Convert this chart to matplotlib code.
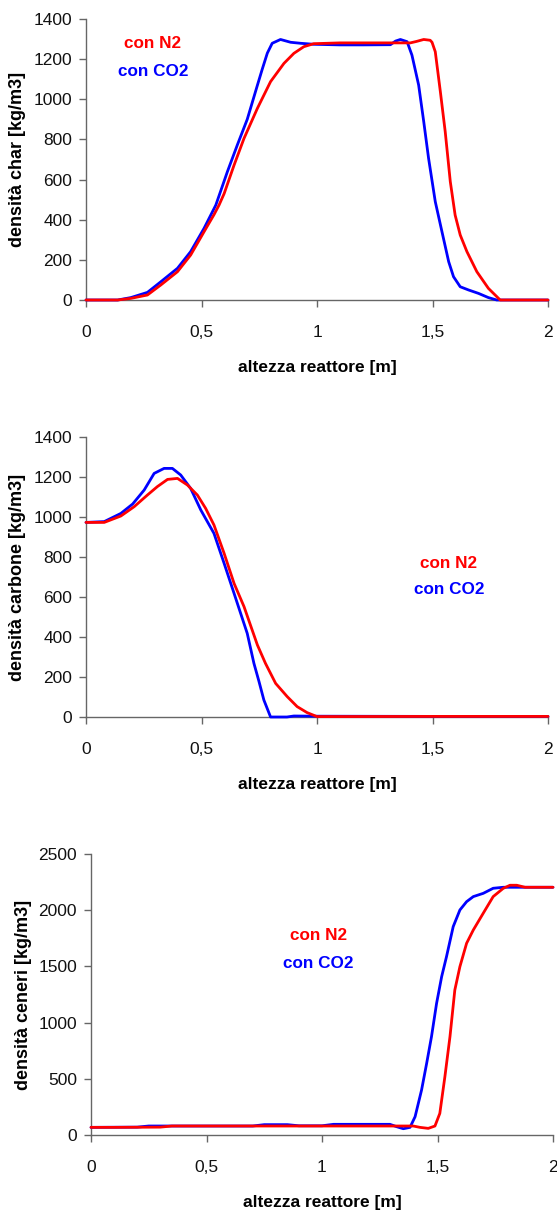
import matplotlib
matplotlib.use("Agg")
import matplotlib.pyplot as plt
from matplotlib.ticker import FixedLocator

# ---------------- data ----------------
char_n2_x = [0, 0.10, 0.137, 0.194, 0.266, 0.324, 0.396, 0.453, 0.511, 0.554, 0.576, 0.598,
             0.641, 0.684, 0.742, 0.799, 0.857, 0.900, 0.943, 0.986, 1.1, 1.25, 1.404, 1.43,
             1.462, 1.49, 1.498, 1.512, 1.534, 1.555, 1.577, 1.598, 1.62, 1.649, 1.692,
             1.742, 1.793, 1.85, 2.0]
char_n2_y = [0, 0, 0, 8, 25, 75, 141, 224, 340, 425, 473, 530,
             672, 805, 955, 1088, 1179, 1229, 1262, 1277, 1281, 1281, 1281, 1288,
             1298, 1294, 1284, 1237, 1038, 839, 590, 423, 324, 241, 141,
             58, 0, 0, 0]
char_co2_x = [0, 0.10, 0.137, 0.194, 0.266, 0.324, 0.396, 0.453, 0.511, 0.562, 0.612, 0.655,
              0.698, 0.72, 0.742, 0.763, 0.785, 0.806, 0.842, 0.886, 0.929, 0.986, 1.1, 1.2,
              1.318, 1.34, 1.361, 1.39, 1.411, 1.44, 1.462, 1.483, 1.512, 1.541, 1.57, 1.591,
              1.62, 1.656, 1.699, 1.742, 1.778, 1.85, 2.0]
char_co2_y = [0, 0, 0, 12, 38, 91, 158, 241, 357, 473, 639, 772,
              900, 985, 1070, 1150, 1230, 1279, 1298, 1284, 1279, 1274, 1271, 1271,
              1272, 1290, 1298, 1287, 1220, 1071, 889, 706, 490, 340, 191, 116,
              66, 50, 33, 12, 0, 0, 0]

carb_n2_x = [0, 0.079, 0.151, 0.209, 0.266, 0.309, 0.353, 0.396, 0.439, 0.482, 0.518, 0.554,
             0.598, 0.641, 0.684, 0.742, 0.777, 0.821, 0.871, 0.914, 0.957, 1.0, 1.5, 2.0]
carb_n2_y = [973, 973, 1005, 1052, 1110, 1152, 1188, 1193, 1160, 1110, 1043, 960,
             818, 668, 552, 360, 268, 168, 102, 52, 22, 2, 3, 3]
carb_co2_x = [0, 0.079, 0.151, 0.202, 0.252, 0.295, 0.338, 0.374, 0.41, 0.453, 0.497, 0.554,
              0.598, 0.641, 0.698, 0.727, 0.749, 0.77, 0.799, 0.87, 0.9, 1.0, 1.5, 2.0]
carb_co2_y = [973, 977, 1018, 1065, 1135, 1218, 1243, 1243, 1210, 1143, 1035, 918,
              768, 618, 418, 268, 177, 85, 0, 0, 5, 4, 3, 3]

cen_n2_x = [0, 0.1, 0.3, 0.35, 0.7, 1.0, 1.2, 1.395, 1.424, 1.46, 1.489, 1.51, 1.532,
            1.554, 1.575, 1.597, 1.626, 1.655, 1.698, 1.741, 1.785, 1.814, 1.843, 1.879, 2.0]
cen_n2_y = [68, 68, 70, 80, 80, 80, 80, 80, 68, 59, 80, 192, 519,
            875, 1290, 1498, 1706, 1824, 1973, 2121, 2195, 2222, 2222, 2204, 2204]
cen_co2_x = [0, 0.2, 0.25, 0.5, 0.7, 0.75, 0.85, 0.9, 1.0, 1.05, 1.294, 1.323, 1.352, 1.381,
             1.403, 1.431, 1.453, 1.474, 1.496, 1.518, 1.539, 1.568, 1.597, 1.626, 1.655,
             1.698, 1.741, 1.785, 1.9, 2.0]
cen_co2_y = [68, 70, 80, 80, 80, 92, 92, 82, 82, 95, 95, 74, 56, 68,
             163, 400, 637, 875, 1171, 1409, 1587, 1854, 2002, 2076, 2121,
             2150, 2195, 2204, 2204, 2204]

x_ticks = [0, 0.5, 1, 1.5, 2]
x_tick_labels = ["0", "0,5", "1", "1,5", "2"]
ylabels = ["densità char [kg/m3]", "densità carbone [kg/m3]", "densità ceneri [kg/m3]"]
xlabel = "altezza reattore [m]"
legend_n2 = "con N2"
legend_co2 = "con CO2"

RED = "#FF0000"
BLUE = "#0000FF"
AXC = "#666666"
W, H = 557, 1214
BOLD = ['Liberation Sans', 'DejaVu Sans']

plt.rcParams['font.family'] = ['Liberation Sans', 'DejaVu Sans']

fig = plt.figure(figsize=(W / 100, H / 100), dpi=100)


def px_rect(l, r, t, b):
    return [l / W, 1 - b / H, (r - l) / W, (b - t) / H]


panels = [
    dict(rect=px_rect(86, 548, 19, 300), ymax=1400, ystep=200,
         n2=(char_n2_x, char_n2_y), co2=(char_co2_x, char_co2_y),
         ylabel=ylabels[0], leg=(153, 44, 71), ylab_x=18, xlab_y=367),
    dict(rect=px_rect(86, 548, 437, 717), ymax=1400, ystep=200,
         n2=(carb_n2_x, carb_n2_y), co2=(carb_co2_x, carb_co2_y),
         ylabel=ylabels[1], leg=(449, 563, 590), ylab_x=18, xlab_y=785),
    dict(rect=px_rect(91, 553, 854, 1135), ymax=2500, ystep=500,
         n2=(cen_n2_x, cen_n2_y), co2=(cen_co2_x, cen_co2_y),
         ylabel=ylabels[2], leg=(318, 935, 963), ylab_x=23, xlab_y=1203),
]

for p in panels:
    ax = fig.add_axes(p["rect"])
    ax.plot(*p["co2"], color=BLUE, lw=2.0, solid_joinstyle='round', solid_capstyle='round',
            clip_on=False, zorder=3)
    ax.plot(*p["n2"], color=RED, lw=2.0, solid_joinstyle='round', solid_capstyle='round',
            clip_on=False, zorder=4)
    ax.set_xlim(0, 2)
    ax.set_ylim(0, p["ymax"])
    ax.xaxis.set_major_locator(FixedLocator(x_ticks))
    ax.set_xticklabels(x_tick_labels)
    ax.set_yticks(list(range(0, p["ymax"] + 1, p["ystep"])))
    for s in ("top", "right"):
        ax.spines[s].set_visible(False)
    for s in ("left", "bottom"):
        ax.spines[s].set_color(AXC)
        ax.spines[s].set_linewidth(1.0)
    ax.tick_params(axis='both', direction='out', length=5, width=1.0, color=AXC,
                   labelsize=12.5, labelcolor="#111111")
    ax.tick_params(axis='x', pad=13)
    ax.tick_params(axis='y', pad=5)
    l, b, w, h = p["rect"]
    fig.text(p["ylab_x"] / W, b + h / 2, p["ylabel"], rotation=90, ha='center', va='center',
             fontsize=13, fontweight='bold', family=BOLD)
    fig.text(l + w / 2, 1 - p["xlab_y"] / H, xlabel, ha='center', va='center',
             fontsize=12.5, fontweight='bold', family=BOLD)
    lx, ly1, ly2 = p["leg"]
    fig.text(lx / W, 1 - ly1 / H, legend_n2, color=RED, ha='center', va='center',
             fontsize=12.3, fontweight='bold', family=BOLD)
    fig.text(lx / W, 1 - ly2 / H, legend_co2, color=BLUE, ha='center', va='center',
             fontsize=12.3, fontweight='bold', family=BOLD)

fig.savefig("out.png", dpi=100)
